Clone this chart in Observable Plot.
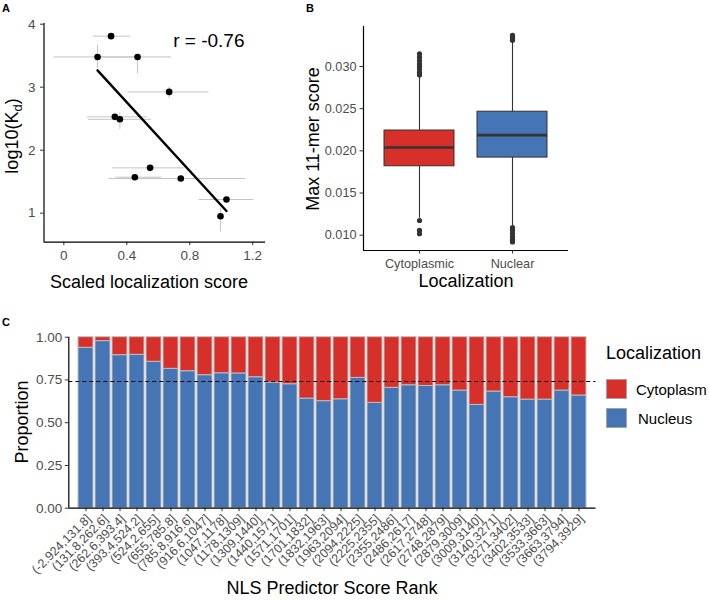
<!DOCTYPE html>
<html>
<head>
<meta charset="utf-8">
<script src="https://cdn.jsdelivr.net/npm/d3@7"></script>
<script src="https://cdn.jsdelivr.net/npm/@observablehq/plot@0.6"></script>
<style>
  body { margin: 0; background: #fff; font-family: "Liberation Sans", Arial, Helvetica, sans-serif; }
  #fig { position: relative; width: 709px; height: 600px; overflow: hidden; background: #fff; }
  .panel { position: absolute; }
  .panel svg { max-width: none !important; }
  .lbl { position: absolute; white-space: nowrap; color: #000; line-height: 1; }
  .plab { position: absolute; font-weight: bold; font-size: 11px; line-height: 1; }
  .ytitle { transform: translate(-50%, -50%) rotate(-90deg); }
  .xtitle { transform: translate(-50%, -50%); }
  .mid { transform: translate(0, -50%); }
  sub { font-size: 0.72em; vertical-align: -0.28em; line-height: 0; }
  svg g[aria-label$="tick label"] { fill: #4d4d4d; }
  svg g[aria-label$="-axis tick"] { stroke: #333; }
  #pc g[aria-label="x-axis tick label"] { font-size: 12.5px; }
  .sw { position: absolute; width: 19px; height: 18px; border: 1.5px solid #a3a3a3; }
</style>
</head>
<body>
<div id="fig">
  <div class="panel" id="pa" style="left:0;top:0;width:280px;height:300px"></div>
  <div class="panel" id="pb" style="left:280px;top:0;width:300px;height:300px"></div>
  <div class="panel" id="pc" style="left:0;top:300px;width:600px;height:300px"></div>

  <div class="plab" style="left:2px;top:3px">A</div>
  <div class="plab" style="left:306px;top:3px">B</div>
  <div class="plab" style="left:2px;top:317px">C</div>

  <div class="lbl ytitle" style="left:12px;top:136px;font-size:18px">log10(K<sub>d</sub>)</div>
  <div class="lbl xtitle" style="left:149px;top:282px;font-size:18px">Scaled localization score</div>

  <div class="lbl ytitle" style="left:313px;top:139px;font-size:18px">Max 11-mer score</div>
  <div class="lbl xtitle" style="left:466px;top:281px;font-size:18px">Localization</div>

  <div class="lbl ytitle" style="left:22px;top:422px;font-size:18px">Proportion</div>
  <div class="lbl xtitle" style="left:332px;top:588px;font-size:18px">NLS Predictor Score Rank</div>

  <div class="lbl mid" style="left:606px;top:353px;font-size:18px">Localization</div>
  <div class="sw" style="left:606px;top:379px;background:#D7302A"></div>
  <div class="sw" style="left:606px;top:408px;background:#4575B4"></div>
  <div class="lbl mid" style="left:636px;top:389px;font-size:15px">Cytoplasm</div>
  <div class="lbl mid" style="left:638px;top:418px;font-size:15px">Nucleus</div>
</div>
<script>
// ---------- Panel A data ----------
const locScore = [0.300, 0.214, 0.468, 0.669, 0.324, 0.356, 0.548, 0.451, 0.743, 1.033, 0.995];
const log10Kd  = [3.81, 3.48, 3.48, 2.925, 2.529, 2.49, 1.719, 1.571, 1.55, 1.217, 0.952];
const locLo    = [0.186, -0.062, 0.214, 0.408, 0.150, 0.154, 0.309, 0.330, 0.286, 0.859, 0.975];
const locHi    = [0.425, 0.468, 0.684, 0.923, 0.530, 0.557, 0.768, 0.620, 1.156, 1.208, 1.015];
const kdLo     = [3.79, 3.297, 3.217, 2.82, 2.51, 2.33, 1.70, 1.55, 1.53, 1.20, 0.703];
const kdHi     = [3.83, 3.667, 3.48, 3.00, 2.55, 2.59, 1.74, 1.59, 1.57, 1.235, 1.075];
const annotA   = ["r = -0.76"];
const xTicksA  = [0, 0.4, 0.8, 1.2];
const yTicksA  = [1, 2, 3, 4];

// ---------- Panel B data ----------
const boxCats  = ["Cytoplasmic", "Nuclear"];
const boxQ1    = [0.01817, 0.0192];
const boxMed   = [0.0204, 0.02186];
const boxQ3    = [0.02241, 0.02464];
const whiskLo  = [0.0120, 0.0111];
const whiskHi  = [0.0289, 0.0330];
const outCyto  = [0.0290, 0.0293, 0.0297, 0.0300, 0.0303, 0.0307, 0.0311, 0.0315, 0.01174, 0.01056, 0.01017];
const outNuc   = [0.0331, 0.0333, 0.0335, 0.0337, 0.0109, 0.0106, 0.0102, 0.0098, 0.0095, 0.0093, 0.0092];
const yTicksB  = [0.010, 0.015, 0.020, 0.025, 0.030];

// ---------- Panel C data ----------
const bins = ["(-2.924,131.8]","(131.8,262.6]","(262.6,393.4]","(393.4,524.2]","(524.2,655]",
  "(655,785.8]","(785.8,916.6]","(916.6,1047]","(1047,1178]","(1178,1309]","(1309,1440]",
  "(1440,1571]","(1571,1701]","(1701,1832]","(1832,1963]","(1963,2094]","(2094,2225]",
  "(2225,2355]","(2355,2486]","(2486,2617]","(2617,2748]","(2748,2879]","(2879,3009]",
  "(3009,3140]","(3140,3271]","(3271,3402]","(3402,3533]","(3533,3663]","(3663,3794]","(3794,3929]"];
const nucleusProp = [0.938,0.977,0.895,0.897,0.856,0.815,0.801,0.778,0.789,0.788,0.766,
  0.735,0.725,0.641,0.626,0.637,0.762,0.616,0.704,0.719,0.715,0.719,0.688,
  0.604,0.682,0.649,0.635,0.635,0.688,0.659];
const overallNucleus = [0.741];
const locClasses = ["Cytoplasm", "Nucleus"];
const locColors = ["#D7302A", "#4575B4"];
const yTicksC = [0, 0.25, 0.5, 0.75, 1];

const FONT = '"Liberation Sans", Arial, Helvetica, sans-serif';

// axis lines along the left and bottom edges of a plot's frame
function axisLines(w, h, m) {
  const fw = w - m.marginLeft - m.marginRight;
  const fh = h - m.marginTop - m.marginBottom;
  return [
    Plot.ruleX([0], {x: null, dx: -fw / 2, stroke: "black", strokeWidth: 1.2}),
    Plot.ruleY([0], {y: null, dy: fh / 2, stroke: "black", strokeWidth: 1.2})
  ];
}

// ---------- Panel A ----------
const ptsA = locScore.map((x, i) => ({x, y: log10Kd[i], x1: locLo[i], x2: locHi[i], y1: kdLo[i], y2: kdHi[i]}));
const mA = {marginLeft: 43.5, marginRight: 15, marginTop: 23, marginBottom: 58.3};
const plotA = Plot.plot({
  width: 280, height: 300, ...mA,
  style: {fontFamily: FONT, fontSize: "13.5px", background: "transparent", overflow: "visible"},
  x: {domain: [-0.126, 1.281]},
  y: {domain: [0.539, 4.011]},
  marks: [
    Plot.ruleY(ptsA, {y: "y", x1: "x1", x2: "x2", stroke: "#c4c4c4", strokeWidth: 1}),
    Plot.ruleX(ptsA, {x: "x", y1: "y1", y2: "y2", stroke: "#c4c4c4", strokeWidth: 1}),
    Plot.linearRegressionY(ptsA, {x: "x", y: "y", stroke: "black", strokeWidth: 2.4, ci: 0}),
    Plot.dot(ptsA, {x: "x", y: "y", r: 3.3, fill: "black"}),
    Plot.text(annotA, {frameAnchor: "top-right", dx: -21, dy: 17, lineAnchor: "middle", fontSize: 19, fill: "black"}),
    Plot.axisX({ticks: xTicksA, tickFormat: d => String(d), tickSize: 3.5, tickPadding: 5, label: null}),
    Plot.axisY({ticks: yTicksA, tickFormat: d => String(d), tickSize: 3.5, tickPadding: 5, label: null}),
    ...axisLines(280, 300, mA)
  ]
});
document.getElementById("pa").appendChild(plotA);

// ---------- Panel B ----------
const boxData = boxCats.map((c, i) => ({cat: c, q1: boxQ1[i], med: boxMed[i], q3: boxQ3[i], lo: whiskLo[i], hi: whiskHi[i]}));
const outData = [...outCyto.map(v => ({cat: boxCats[0], v})), ...outNuc.map(v => ({cat: boxCats[1], v}))];
const mB = {marginLeft: 83, marginRight: 12, marginTop: 26, marginBottom: 50};
const plotB = Plot.plot({
  width: 300, height: 300, ...mB,
  style: {fontFamily: FONT, fontSize: "12.7px", background: "transparent", overflow: "visible"},
  x: {domain: boxCats, paddingInner: 0.25, paddingOuter: 0.225},
  y: {domain: [0.008186, 0.03474]},
  color: {domain: boxCats, range: locColors},
  marks: [
    Plot.ruleX(boxData, {x: "cat", y1: "lo", y2: "hi", stroke: "#333", strokeWidth: 1.1}),
    Plot.barY(boxData, {x: "cat", y1: "q1", y2: "q3", fill: "cat", stroke: "#333", strokeWidth: 1}),
    Plot.tickY(boxData, {x: "cat", y: "med", stroke: "#333", strokeWidth: 2.6}),
    Plot.dot(outData, {x: "cat", y: "v", r: 2.6, fill: "#333"}),
    Plot.axisX({tickSize: 3.5, tickPadding: 4.5, label: null}),
    Plot.axisY({ticks: yTicksB, tickFormat: d3.format(".3f"), tickSize: 3.5, tickPadding: 3.5, label: null}),
    ...axisLines(300, 300, mB)
  ]
});
document.getElementById("pb").appendChild(plotB);

// ---------- Panel C ----------
const cRows = bins.flatMap((b, i) => [
  {bin: b, loc: "Nucleus", y1: 0, y2: nucleusProp[i]},
  {bin: b, loc: "Cytoplasm", y1: nucleusProp[i], y2: 1}
]);
const mC = {marginLeft: 68.3, marginRight: 4.5, marginTop: 36.7, marginBottom: 92.3};
const plotC = Plot.plot({
  width: 600, height: 300, ...mC,
  style: {fontFamily: FONT, fontSize: "13.5px", background: "transparent", overflow: "visible"},
  x: {domain: bins, paddingInner: 0.1, paddingOuter: 0.05},
  y: {domain: [0, 1]},
  color: {domain: locClasses, range: locColors},
  marks: [
    Plot.barY(cRows, {x: "bin", y1: "y1", y2: "y2", fill: "loc", stroke: "#bdbdbd", strokeWidth: 1}),
    Plot.ruleY(overallNucleus, {stroke: "black", strokeWidth: 1.2, strokeDasharray: "4,3"}),
    // tick marks only
    Plot.axisX({tickSize: 3.5, tickFormat: () => "", label: null}),
    // rotated tick labels only
    Plot.axisX({tickRotate: -45, tickSize: 0, tickPadding: 4.5, fontSize: 12.5, dx: 3, dy: 4, label: null}),
    Plot.axisY({ticks: yTicksC, tickFormat: d3.format(".2f"), tickSize: 3.5, tickPadding: 3, label: null}),
    ...axisLines(600, 300, mC)
  ]
});
document.getElementById("pc").appendChild(plotC);
</script>
</body>
</html>
